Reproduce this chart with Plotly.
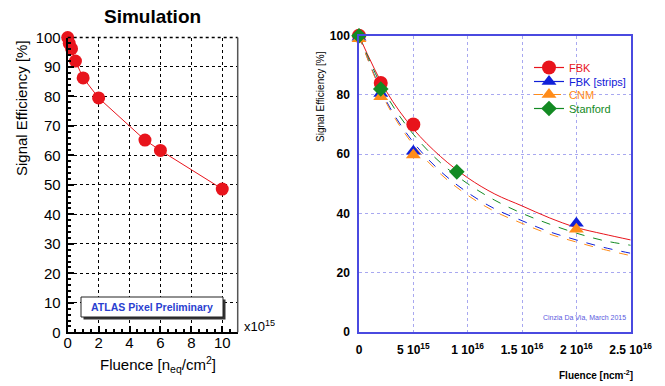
import plotly.graph_objects as go

# ---------------- Left panel: simulation ----------------
sim_fluence = [0, 0.1, 0.25, 0.5, 1, 2, 5, 6, 10]          # x10^15 neq/cm2
sim_eff = [100, 98, 96.2, 92, 86.3, 79.5, 65.2, 61.7, 48.6]  # %
left_xticks = [0, 2, 4, 6, 8, 10]
left_yticks = [0, 10, 20, 30, 40, 50, 60, 70, 80, 90, 100]

# ---------------- Right panel: measurements ----------------
fbk_x = [0, 2e15, 5e15]
fbk_y = [100, 84, 70]
fbks_x = [0, 2e15, 5e15, 2e16]
fbks_y = [99.5, 80.5, 61, 36.6]
cnm_x = [0, 2e15, 5e15, 2e16]
cnm_y = [99, 79.4, 59.7, 34.6]
stan_x = [0, 2e15, 9e15]
stan_y = [100, 82, 54]

# fitted curves
fit_x = [0, 2.5e15, 5e15, 7.5e15, 1e16, 1.25e16, 1.5e16, 1.75e16, 2e16, 2.25e16, 2.5e16]
fit_fbk = [100, 81.3, 68.5, 59.2, 52, 46.5, 42.5, 38.5, 35.2, 33, 31]
fit_stan = [100, 80, 66.7, 57.1, 50, 44.4, 40, 36.4, 33.3, 30.8, 29.2]
fit_fbks = [100, 78, 64, 54.2, 47, 41.5, 37.5, 33.8, 31, 28.5, 26.5]
fit_cnm = [100, 77.4, 63.1, 53.3, 46.1, 40.6, 36.6, 33, 30.3, 27.8, 25.7]

right_xticks = [0, 5e15, 1e16, 1.5e16, 2e16, 2.5e16]
right_xtext = ["0", "5 10<sup>15</sup>", "1 10<sup>16</sup>", "1.5 10<sup>16</sup>",
               "2 10<sup>16</sup>", "2.5 10<sup>16</sup>"]
right_yticks = [0, 20, 40, 60, 80, 100]

FONT = "Liberation Sans, Arial, Helvetica, sans-serif"
RED = "#e8141c"
BLUE = "#1020d8"
ORANGE = "#ff8c1a"
GREEN = "#138a23"
FRAME = "#4a4ae0"
GRIDB = "#a8a8f0"

W, H = 665, 386


def px(x):
    return x / W


def py(y):
    return 1 - y / H


def gapped(xs, ys):
    gx, gy = [], []
    for i, (a, b) in enumerate(zip(xs, ys)):
        if i:
            gx.append(None)
            gy.append(None)
        gx.append(a)
        gy.append(b)
    return gx, gy


fig = go.Figure()

# left simulation trace
fig.add_trace(go.Scatter(x=sim_fluence, y=sim_eff, mode="lines+markers",
                         line=dict(color=RED, width=1),
                         marker=dict(color=RED, size=13, symbol="circle"),
                         showlegend=False, xaxis="x", yaxis="y", cliponaxis=False))

# right fit curves
for fy, col, dash in [(fit_fbk, RED, "solid"), (fit_stan, GREEN, "dash"),
                      (fit_fbks, BLUE, "dash"), (fit_cnm, ORANGE, "dash")]:
    fig.add_trace(go.Scatter(x=fit_x, y=fy, mode="lines", line=dict(color=col, width=1, dash=dash, shape="spline"),
                             showlegend=False, xaxis="x2", yaxis="y2", hoverinfo="skip"))

# right data points (gapped so legend shows line + marker but no connecting lines)
series = [
    ("FBK", fbk_x, fbk_y, RED, "circle", 14, "solid"),
    ("FBK [strips]", fbks_x, fbks_y, BLUE, "triangle-up", 13, "solid"),
    ("CNM", cnm_x, cnm_y, ORANGE, "triangle-up", 13, "dash"),
    ("Stanford", stan_x, stan_y, GREEN, "diamond", 12, "solid"),
]
legend_names = ["legend", "legend2", "legend3", "legend4"]
legend_tops = [53, 67, 80, 94]
legend_layouts = {}
for (name, xs, ys, col, sym, sz, dash), lg, top in zip(series, legend_names, legend_tops):
    gx, gy = gapped(xs, ys)
    fig.add_trace(go.Scatter(x=gx, y=gy, mode="lines+markers", connectgaps=False,
                             name=f"<span style='color:{col}'>{name}</span>", legend=lg,
                             line=dict(color=col, width=1.2, dash=dash),
                             marker=dict(color=col, size=sz, symbol=sym),
                             xaxis="x2", yaxis="y2", cliponaxis=False))
    legend_layouts[lg] = dict(x=px(529), y=py(top), xanchor="left", yanchor="top",
                              bgcolor="rgba(0,0,0,0)", borderwidth=0,
                              font=dict(size=11, family=FONT), itemwidth=30)

layout_shapes = [
    # left panel top (dotted) and right border
    dict(type="line", xref="x domain", yref="y domain", x0=0, x1=1, y0=1, y1=1,
         line=dict(color="black", width=1.5, dash="dot")),
    dict(type="line", xref="x domain", yref="y domain", x0=1, x1=1, y0=0, y1=1,
         line=dict(color="#555555", width=1.5)),
    # ATLAS box shadow and box
    dict(type="rect", xref="paper", yref="paper", x0=px(83.5), x1=px(225.5), y0=py(319.5), y1=py(299.5),
         fillcolor="#333333", line=dict(width=0), layer="above"),
    dict(type="rect", xref="paper", yref="paper", x0=px(81), x1=px(223), y0=py(317), y1=py(297),
         fillcolor="white", line=dict(color="#222222", width=1), layer="above"),
]


def ann(text, x, y, size, color="black", angle=0, xanchor="center", family=FONT):
    return dict(text=text, x=px(x), y=py(y), xref="paper", yref="paper", xanchor=xanchor,
                yanchor="middle", showarrow=False, textangle=angle,
                font=dict(size=size, family=family, color=color))


fig.update_layout(
    template="none",
    width=W, height=H, margin=dict(l=0, r=0, t=0, b=0, pad=0, autoexpand=False),
    paper_bgcolor="white", plot_bgcolor="white",
    font=dict(family=FONT, color="black"),
    xaxis=dict(domain=[px(67.7), px(237.7)], range=[0, 11], anchor="y", automargin=False,
               tickvals=left_xticks, ticks="inside", ticklen=6, tickwidth=1.5, tickcolor="black",
               tickfont=dict(size=15, family=FONT), ticklabelstandoff=-4,
               showline=True, linecolor="black", linewidth=2,
               showgrid=True, gridcolor="black", griddash="dot", gridwidth=1,
               minor=dict(ticks="inside", dtick=0.5, ticklen=3, tickcolor="black", showgrid=False),
               zeroline=False),
    yaxis=dict(domain=[py(332.3), py(37.5)], range=[0, 100], anchor="x", automargin=False,
               tickvals=left_yticks, ticks="inside", ticklen=6, tickwidth=1.5, tickcolor="black",
               tickfont=dict(size=15, family=FONT), ticklabelstandoff=2,
               showline=True, linecolor="black", linewidth=2,
               showgrid=True, gridcolor="black", griddash="dot", gridwidth=1,
               minor=dict(ticks="inside", dtick=2, ticklen=3, tickcolor="black", showgrid=False),
               zeroline=False),
    xaxis2=dict(domain=[px(359), px(630.7)], range=[0, 2.5e16], anchor="y2", automargin=False,
                tickvals=right_xticks, ticktext=right_xtext, ticks="",
                tickfont=dict(size=12, family=FONT, weight="bold"), ticklabelstandoff=6,
                showline=True, linecolor=FRAME, linewidth=1.5, mirror=True,
                showgrid=True, gridcolor=GRIDB, griddash="dot", gridwidth=1.2, zeroline=False),
    yaxis2=dict(domain=[py(331.7), py(35.7)], range=[0, 100], anchor="x2", automargin=False,
                tickvals=right_yticks, ticks="",
                tickfont=dict(size=12, family=FONT, weight="bold"), ticklabelstandoff=5,
                showline=True, linecolor=FRAME, linewidth=1.5, mirror=True,
                showgrid=True, gridcolor=GRIDB, griddash="dot", gridwidth=1.2, zeroline=False),
    shapes=layout_shapes,
    annotations=[
        ann("<b>Simulation</b>", 152, 16, 19),
        ann("Signal Efficiency [%]", 21, 108, 15, angle=-90),
        ann("Fluence [n<sub>eq</sub>/cm<sup>2</sup>]", 158, 364, 15),
        ann("x10<sup>15</sup>", 242, 326, 13, xanchor="left"),
        ann("<b>ATLAS Pixel Preliminary</b>", 152, 307, 10.5, color="#2a3fd0"),
        ann("Signal Efficiency [%]", 320, 97, 10, angle=-90),
        ann("<b>Fluence [ncm<sup>-2</sup>]</b>", 596, 375, 10),
        ann("Cinzia Da Via, March 2015", 584, 317, 7, color="#5a5ae0",
            family="Liberation Sans Narrow, Liberation Sans"),
    ],
    **legend_layouts,
)

fig.write_html("out.html")
